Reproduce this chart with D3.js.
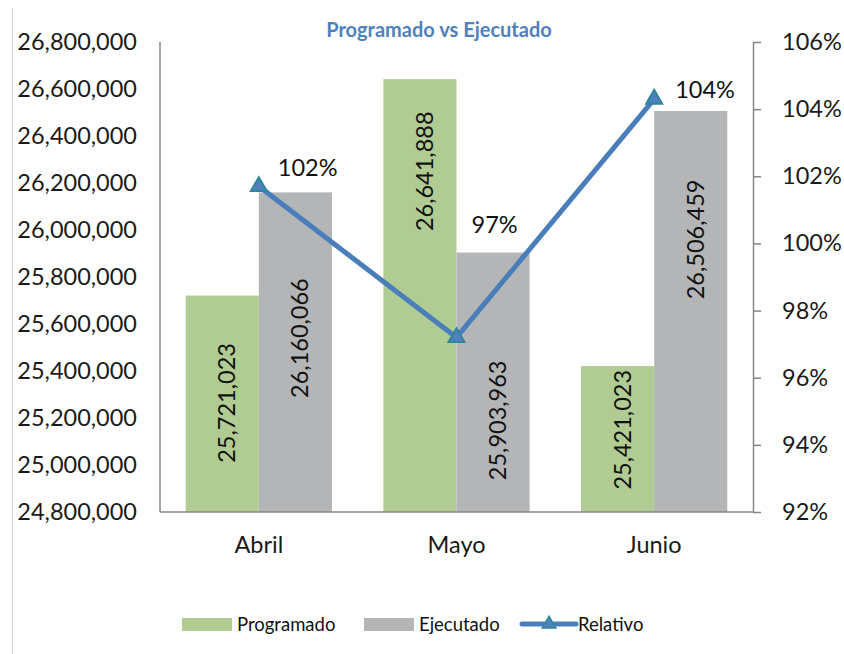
<!DOCTYPE html>
<html>
  <head>
    <meta charset="utf-8">
    <title>Programado vs Ejecutado</title>
    <script src="https://d3js.org/d3.v7.min.js"></script>
    <style>
      body { margin: 0; background: #fff; }
      svg text { font-family: Lato, "Open Sans", sans-serif; }
      .axis path { stroke: #868686; stroke-width: 1.5; }
      .axis line { stroke: #868686; stroke-width: 1.5; }
      .axis text { font-size: 23.5px; fill: #1a1a1a; }
    </style>
  </head>
  <body>
    <svg id="chart" width="844" height="654"></svg>
    <script>
      // chart data
      const meses = ["Abril", "Mayo", "Junio"];
      const programado = [25721023, 26641888, 25421023];
      const ejecutado = [26160066, 25903963, 26506459];
      const relativo = [1.017, 0.972, 1.043];
      const leftTicks = [24800000, 25000000, 25200000, 25400000, 25600000, 25800000, 26000000, 26200000, 26400000, 26600000, 26800000];
      const rightTicks = [0.92, 0.94, 0.96, 0.98, 1.00, 1.02, 1.04, 1.06];

      // layout
      const svg = d3.select("#chart");
      const plotL = 160, plotR = 753, plotT = 42, plotB = 512;
      const green = "#b1cc93";
      const grey = "#b3b5b7";
      const blue = "#4a7ebb";
      // where the rotated value labels sit (in left axis units)
      const barLabelAt = { programado: [25264000, 26250000, 25150000], ejecutado: [25540000, 25190000, 25960000] };
      // offsets of the percentage labels from their points
      const lineLabelDx = [19, 15, 21];
      const lineLabelDy = [-10, -104, -1];

      const x = d3.scaleBand().domain(meses).range([plotL, plotR]).paddingInner(0.26).paddingOuter(0.13);
      const y = d3.scaleLinear().domain([24800000, 26800000]).range([plotB, plotT]);
      const y2 = d3.scaleLinear().domain([0.92, 1.06]).range([plotB, plotT]);

      // outer frame edge
      svg.append("line")
        .attr("x1", 12.5).attr("x2", 12.5).attr("y1", 8).attr("y2", 654)
        .style("stroke", "#d0d0d0");

      // title
      svg.append("text")
        .attr("x", 439).attr("y", 37)
        .attr("text-anchor", "middle")
        .style("font-size", "20px").style("font-weight", "bold")
        .style("fill", "#4f81bd")
        .text("Programado vs Ejecutado");

      // bars
      const half = x.bandwidth() / 2;
      const series = [
        { key: "programado", values: programado, color: green, dx: 0 },
        { key: "ejecutado", values: ejecutado, color: grey, dx: half }
      ];
      series.forEach(function(s) {
        svg.append("g")
          .selectAll("rect")
            .data(s.values)
          .enter().append("rect")
            .attr("x", function(d, i) { return x(meses[i]) + s.dx; })
            .attr("width", half)
            .attr("y", function(d) { return y(d); })
            .attr("height", function(d) { return plotB - y(d); })
            .style("fill", s.color);
      });

      // axes
      svg.append("g")
        .attr("class", "axis")
        .attr("transform", "translate(" + plotL + ",0)")
        .call(d3.axisLeft(y).tickValues(leftTicks).tickSize(0).tickPadding(23).tickFormat(d3.format(",")))
        .call(function(g) { g.select(".domain").attr("d", "M0," + plotT + "V" + plotB); });
      svg.append("g")
        .attr("class", "axis")
        .attr("transform", "translate(" + plotR + ",0)")
        .call(d3.axisRight(y2).tickValues(rightTicks).tickSizeInner(8).tickSizeOuter(0).tickPadding(21).tickFormat(d3.format(".0%")));
      svg.append("g")
        .attr("class", "axis")
        .attr("transform", "translate(0," + plotB + ")")
        .call(d3.axisBottom(x).tickSize(0).tickPadding(24))
        .call(function(g) { g.select(".domain").attr("d", "M" + plotL + ",0H" + plotR); });

      // value labels inside the bars
      series.forEach(function(s) {
        svg.append("g")
          .selectAll("text")
            .data(s.values)
          .enter().append("text")
            .attr("transform", function(d, i) {
              return "translate(" + (x(meses[i]) + s.dx + half / 2 + 13) + "," + y(barLabelAt[s.key][i]) + ") rotate(-90)";
            })
            .attr("text-anchor", "middle")
            .style("font-size", "23.5px")
            .style("fill", "#111")
            .text(function(d) { return d3.format(",")(d); });
      });

      // relative line
      const cx = function(d, i) { return x(meses[i]) + half; };
      const line = d3.line().x(cx).y(function(d) { return y2(d); });
      svg.append("path")
        .datum(relativo)
        .attr("d", line)
        .style("fill", "none")
        .style("stroke", blue)
        .style("stroke-width", 5)
        .style("stroke-linejoin", "round");
      svg.append("g")
        .selectAll("path")
          .data(relativo)
        .enter().append("path")
          .attr("transform", function(d, i) { return "translate(" + cx(d, i) + "," + y2(d) + ")"; })
          .attr("d", d3.symbol().type(d3.symbolTriangle).size(110))
          .style("fill", "#4f81bd")
          .style("stroke", "#31859c")
          .style("stroke-width", 2);
      svg.append("g")
        .selectAll("text")
          .data(relativo)
        .enter().append("text")
          .attr("x", function(d, i) { return cx(d, i) + lineLabelDx[i]; })
          .attr("y", function(d, i) { return y2(d) + lineLabelDy[i]; })
          .style("font-size", "23.5px")
          .style("fill", "#111")
          .text(function(d) { return d3.format(".0%")(d); });

      // legend
      const legend = svg.append("g").attr("transform", "translate(0,624)");
      const legendItems = [
        { name: "Programado", color: green, type: "bar", x: 182 },
        { name: "Ejecutado", color: grey, type: "bar", x: 364 },
        { name: "Relativo", color: blue, type: "line", x: 522 }
      ];
      legendItems.forEach(function(d) {
        if (d.type == "bar") {
          legend.append("rect")
            .attr("x", d.x).attr("y", -6).attr("width", 50).attr("height", 13)
            .style("fill", d.color);
        } else {
          legend.append("line")
            .attr("x1", d.x).attr("x2", d.x + 54).attr("y1", 0).attr("y2", 0)
            .style("stroke", d.color).style("stroke-width", 5).style("stroke-linecap", "round");
          legend.append("path")
            .attr("transform", "translate(" + (d.x + 27) + ",0)")
            .attr("d", d3.symbol().type(d3.symbolTriangle).size(80))
            .style("fill", "#4f81bd").style("stroke", "#31859c").style("stroke-width", 1.5);
        }
        legend.append("text")
          .attr("x", d.x + (d.type == "bar" ? 55 : 56))
          .attr("y", 6.5)
          .style("font-size", "18.5px")
          .style("fill", "#111")
          .text(d.name);
      });
    </script>
  </body>
</html>
